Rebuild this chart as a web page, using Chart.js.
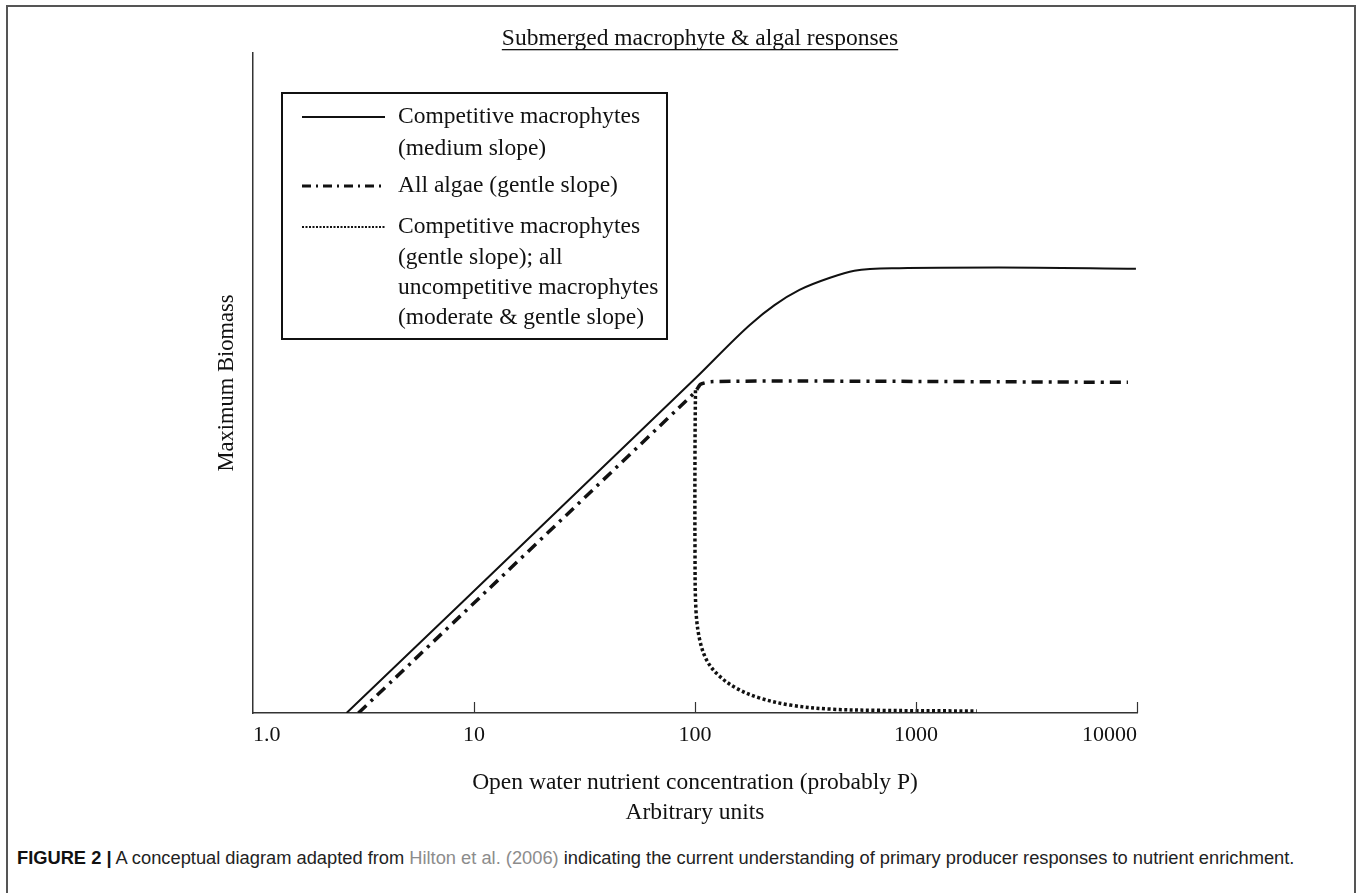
<!DOCTYPE html>
<html>
<head>
<meta charset="utf-8">
<script src="https://cdn.jsdelivr.net/npm/chart.js@4.4.1/dist/chart.umd.min.js"></script>
<style>
  html, body { margin: 0; padding: 0; background: #fff; }
  #frame { position: absolute; left: 6px; top: 5px; width: 1346px; height: 900px; border: 2px solid #555; border-bottom: none; }
  #wrap { position: absolute; left: 0; top: 0; width: 1359px; height: 830px; }
  #caption { position: absolute; left: 17px; top: 847px; font: 18.3px 'Liberation Sans', Arial, sans-serif; color: #222; white-space: nowrap; }
  #caption b { color: #111; }
  #caption .ref { color: #8c8c8c; }
</style>
</head>
<body>
<div id="frame"></div>
<div id="wrap"><canvas id="chart" width="1359" height="830"></canvas></div>
<div id="caption"><b>FIGURE 2 |</b> A conceptual diagram adapted from <span class="ref">Hilton et al. (2006)</span> indicating the current understanding of primary producer responses to nutrient enrichment.</div>
<script>
// axis ticks (log x)
const xTicks = [1, 10, 100, 1000, 10000];
const xTickLabels = ['1.0', '10', '100', '1000', '10000'];

// competitive macrophytes (medium slope) - solid
const compX = [2.65, 101, 177, 229, 297, 405, 526, 838, 2366, 9890];
const compY = [0, 50.8, 58.8, 61.8, 64.1, 65.9, 67.0, 67.4, 67.5, 67.3];

// all algae (gentle slope) - dash dot
const algaeX = [3.0, 100, 106, 118, 300, 9100];
const algaeY = [0, 48.6, 49.8, 50.2, 50.3, 50.1];

// competitive macrophytes (gentle slope) etc - dotted
const dotX = [100.5, 100, 100, 101, 105, 113, 127, 153, 195, 270, 405, 681, 1883];
const dotY = [48.9, 39.8, 24.7, 15.6, 11.1, 8.0, 5.8, 3.8, 2.3, 1.2, 0.6, 0.4, 0.3];

const chartTitle = 'Submerged macrophyte & algal responses';
const xTitle = ['Open water nutrient concentration (probably P)', 'Arbitrary units'];
const yTitle = 'Maximum Biomass';

const legendItems = [
  { ds: 0, lines: ['Competitive macrophytes', '(medium slope)'] },
  { ds: 1, lines: ['All algae (gentle slope)'] },
  { ds: 2, lines: ['Competitive macrophytes', '(gentle slope); all', 'uncompetitive macrophytes', '(moderate & gentle slope)'] }
];

const toPts = (xs, ys) => xs.map((x, i) => ({ x: x, y: ys[i] }));
const SERIF = '"Liberation Serif", "Times New Roman", serif';

// title, legend box and inward tick marks
const decorPlugin = {
  id: 'decor',
  afterDraw(chart) {
    const ctx = chart.ctx;
    const xs = chart.scales.x;
    const area = chart.chartArea;
    ctx.save();

    ctx.strokeStyle = '#333';
    ctx.lineWidth = 1.2;
    xTicks.slice(1).forEach(v => {
      const px = Math.round(xs.getPixelForValue(v)) + 0.5;
      ctx.beginPath();
      ctx.moveTo(px, area.bottom);
      ctx.lineTo(px, area.bottom - 11);
      ctx.stroke();
    });

    ctx.font = '23.5px ' + SERIF;
    ctx.fillStyle = '#111';
    ctx.textAlign = 'center';
    ctx.textBaseline = 'alphabetic';
    const tw = ctx.measureText(chartTitle).width;
    ctx.fillText(chartTitle, 700, 45);
    ctx.fillRect(700 - tw / 2, 49, tw, 1.3);

    // legend
    ctx.strokeStyle = '#111';
    ctx.lineWidth = 2;
    ctx.strokeRect(282, 93, 385, 246);
    const rows = [117, 149, 186, 227, 258, 288, 318];
    let r = 0;
    ctx.textAlign = 'left';
    ctx.textBaseline = 'middle';
    legendItems.forEach(item => {
      const ds = chart.data.datasets[item.ds];
      const y = rows[r];
      ctx.beginPath();
      ctx.strokeStyle = ds.borderColor;
      ctx.lineWidth = ds.legendWidth;
      ctx.setLineDash(ds.legendDash);
      ctx.moveTo(302, y);
      ctx.lineTo(385, y);
      ctx.stroke();
      ctx.setLineDash([]);
      item.lines.forEach(line => {
        ctx.fillText(line, 398, rows[r]);
        r++;
      });
    });
    ctx.restore();
  }
};

new Chart(document.getElementById('chart').getContext('2d'), {
  type: 'line',
  data: {
    datasets: [
      {
        label: 'Competitive macrophytes (medium slope)',
        data: toPts(compX, compY),
        borderColor: '#111',
        borderWidth: 2,
        cubicInterpolationMode: 'monotone',
        legendWidth: 2,
        legendDash: []
      },
      {
        label: 'All algae (gentle slope)',
        data: toPts(algaeX, algaeY),
        borderColor: '#111',
        borderWidth: 3.5,
        borderDash: [11, 6, 3, 6],
        tension: 0.2,
        legendWidth: 3,
        legendDash: [9, 5, 2, 5]
      },
      {
        label: 'Competitive macrophytes (gentle slope); all uncompetitive macrophytes',
        data: toPts(dotX, dotY),
        borderColor: '#111',
        borderWidth: 3.5,
        borderDash: [3, 2.5],
        tension: 0.35,
        legendWidth: 2,
        legendDash: [2, 1.5]
      }
    ]
  },
  options: {
    responsive: false,
    animation: false,
    events: [],
    elements: { point: { radius: 0 } },
    layout: { padding: { left: 203, top: 53, right: 222, bottom: 0 } },
    plugins: { legend: { display: false }, title: { display: false }, tooltip: { enabled: false } },
    scales: {
      x: {
        type: 'logarithmic',
        min: 1,
        max: 10000,
        afterFit: s => { s.height = 117; },
        afterBuildTicks: s => { s.ticks = xTicks.map(v => ({ value: v })); },
        grid: { display: false, drawTicks: false },
        border: { display: true, color: '#333', width: 1.5 },
        ticks: {
          align: 'inner',
          autoSkip: false,
          maxRotation: 0,
          padding: 9,
          color: '#111',
          font: { family: SERIF, size: 22 },
          callback: (v, i) => xTickLabels[i]
        },
        title: {
          display: true,
          text: xTitle,
          color: '#111',
          font: { family: SERIF, size: 23.5, lineHeight: 1.28 },
          padding: { top: 0, bottom: 2 }
        }
      },
      y: {
        min: 0,
        max: 100,
        afterFit: s => { s.width = 50; },
        grid: { display: false, drawTicks: false },
        border: { display: true, color: '#333', width: 1.5 },
        ticks: { display: false },
        title: {
          display: true,
          text: yTitle,
          color: '#111',
          font: { family: SERIF, size: 22.5 },
          padding: { top: 11, bottom: 0 }
        }
      }
    }
  },
  plugins: [decorPlugin]
});
</script>
</body>
</html>
